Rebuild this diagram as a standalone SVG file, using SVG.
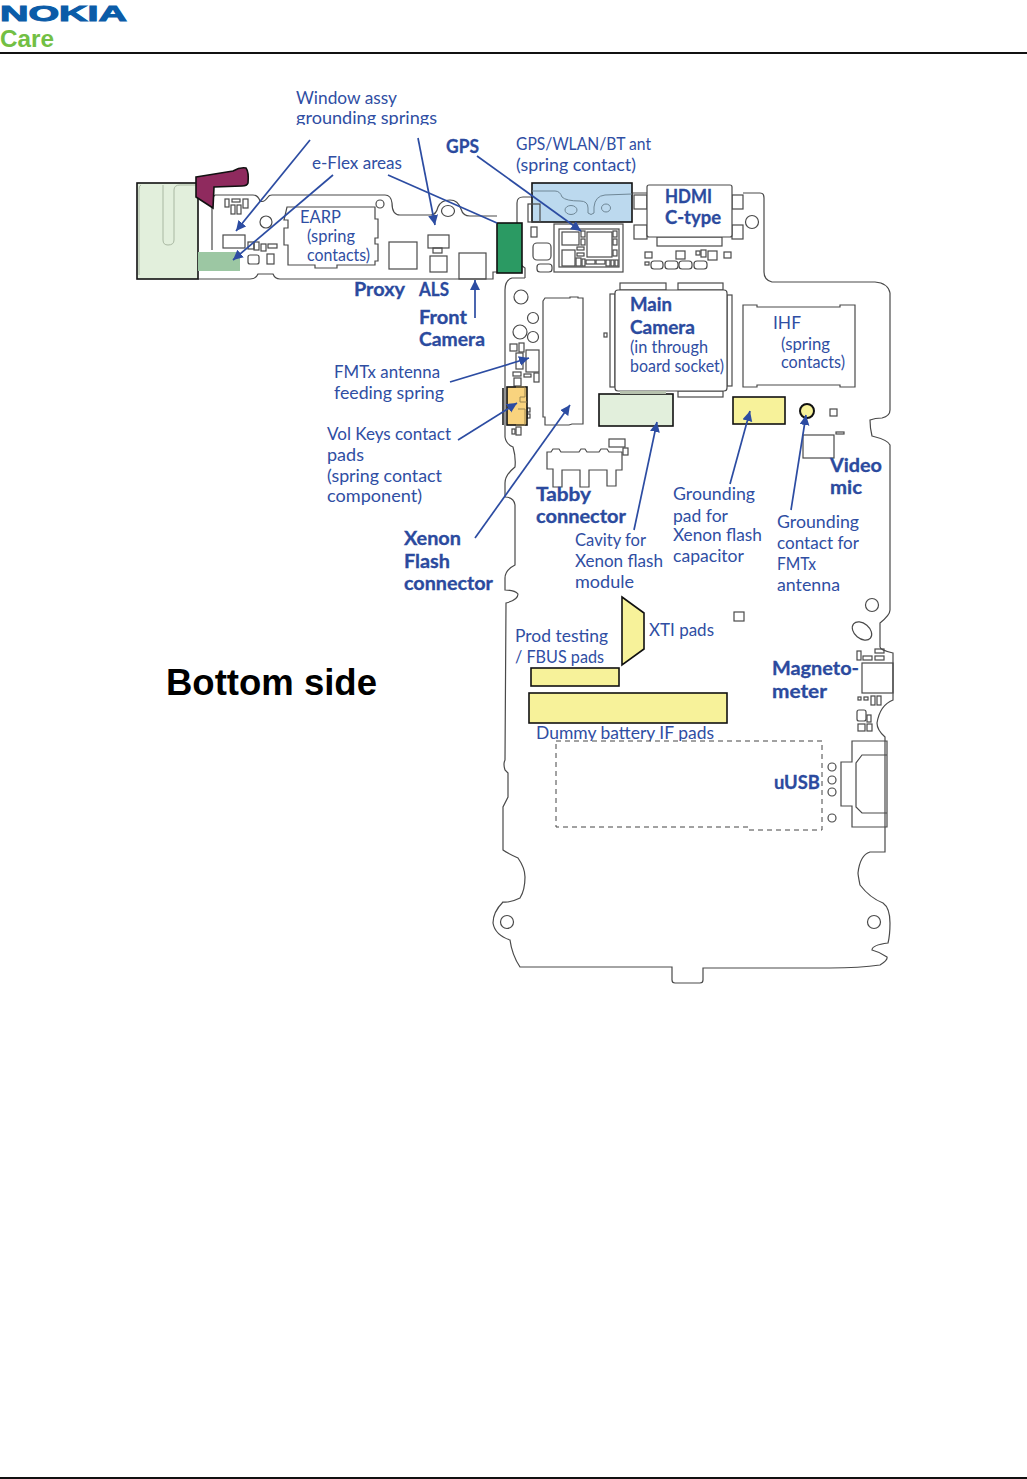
<svg xmlns="http://www.w3.org/2000/svg" width="1027" height="1479" viewBox="0 0 1027 1479">
<style>
.o{fill:none;stroke:#4a4a4a;stroke-width:1.2}
.w{fill:#fff;stroke:#4a4a4a;stroke-width:1.2}
.k{stroke:#111;stroke-width:1.6}
.y{fill:#f7f29a}
.t{font-family:"Lato","Noto Sans",sans-serif;font-size:16.5px;fill:#2f4ea3}
.b{font-family:"Lato","Noto Sans",sans-serif;font-size:18px;font-weight:700;fill:#2b4a9e;stroke:#2b4a9e;stroke-width:.3}
.a{stroke:#2c4ca2;stroke-width:1.7;fill:none;marker-end:url(#h)}
</style>
<defs>
<marker id="h" markerUnits="userSpaceOnUse" markerWidth="12" markerHeight="12" refX="10" refY="5" orient="auto"><path d="M0 0L10 5L0 10Z" fill="#2c4ca2"/></marker>
<clipPath id="c1"><rect x="280" y="80" width="170" height="45"/></clipPath>
<clipPath id="c2"><rect x="520" y="715" width="210" height="26"/></clipPath>
</defs>
<rect width="1027" height="1479" fill="#fff"/>
<g id="header">
<text x="0" y="20.500" textLength="127" lengthAdjust="spacingAndGlyphs" style="font-family:'Liberation Sans',sans-serif;font-weight:700;font-size:22.500px;fill:#0b5ca8;stroke:#0b5ca8;stroke-width:1">NOKIA</text>
<text x="0" y="47" textLength="54" lengthAdjust="spacingAndGlyphs" style="font-family:'Liberation Sans',sans-serif;font-weight:700;font-size:24px;fill:#72bf44">Care</text>
<path d="M0 53H1027M0 1478H1027" stroke="#111" stroke-width="2"/>
</g>
<g id="board">
<path class="o" d="M215 195H253Q258 195 260 201Q264 203 268 197Q269 195 272 195H385Q391 195 392 203Q392 215 400 215H431Q436 215 438 207Q441 200 450 200Q458 200 461 209Q463 216 470 216H497M497 272H493V279H280Q275 279 273 274H258Q256 279 250 279H198"/>
<path class="o" d="M215 195Q212 197 212 205V250"/>
<path class="o" d="M525 278H512Q505 280 505 290V437Q506 444 513 447Q516 457 515 467Q505 475 505 483V497Q514 497 515 505V565Q505 570 505 578V590Q515 590 518 594Q518 600 506 603L505 760Q503 764 505 770L508 773V797L503 807V850Q507 853 518 858Q525 868 525 877Q525 890 520 898Q510 903 503 902Q493 912 493 923Q495 935 510 940Q512 955 520 967H672V980Q672 983 675 983H700Q703 983 703 980V968H830Q860 968 880 965Q888 960 887 957Q880 952 872 950Q872 945 888 943Q890 935 890 923Q890 908 883 903Q870 898 860 885Q858 875 858 873Q860 855 870 852H885V737Q877 730 877 723Q880 705 893 700V653Q880 650 880 647V623Q890 615 890 610V445Q888 440 872 436Q870 428 870 420Q875 418 882 418Q890 416 890 410V293Q888 283 875 282H772Q764 280 764 272V198Q764 193 760 193H743"/>
<path class="o" d="M525 278V268L517 262V203Q517 197 523 197H532M633 193H647"/>
<circle class="o" cx="266" cy="222" r="6"/><circle class="o" cx="380" cy="204" r="4"/><ellipse class="o" cx="448" cy="211" rx="6.500" ry="5.500"/>
<circle class="o" cx="521" cy="297" r="7"/><circle class="o" cx="533" cy="318" r="5.500"/><circle class="o" cx="520" cy="332" r="7"/><circle class="o" cx="533" cy="337" r="5.500"/>
<circle class="o" cx="752" cy="222" r="6.500"/><circle class="o" cx="872" cy="605" r="6.500"/><ellipse class="o" cx="862" cy="631" rx="11" ry="7.500" transform="rotate(40 862 631)"/>
<circle class="o" cx="507" cy="922" r="6.500"/><circle class="o" cx="874" cy="922" r="6.500"/>
<circle class="o" cx="832" cy="767" r="4"/><circle class="o" cx="832" cy="780" r="4"/><circle class="o" cx="832" cy="792" r="4"/><circle class="o" cx="832" cy="818" r="4"/>
<rect class="o" x="734" y="612" width="10" height="9"/>
</g>
<g id="flex-left">
<rect class="k" x="137" y="183" width="61" height="96" fill="#e2efdc"/>
<path d="M141 185Q139 185 139 190V275M163 185V240Q163 245 168 245Q174 245 174 240V190Q174 185 180 185H196" fill="none" stroke="#a9b8a2" stroke-width="1"/>
<rect x="198" y="252" width="42" height="19" fill="#9cc7a3"/>
<path d="M196 177L233 171Q240 167 246 168Q249 172 248 183Q247 186 242 186L214 187L213 208L196 197Z" fill="#8f2a5e" stroke="#111" stroke-width="1.600"/>
</g>
<g id="earp">
<path class="o" d="M287 207H375V219H378V238H375V244H378V261H375V265H337V268H315V265H288V245H284V228H288V220H284Z"/>
<text class="t" x="300" y="223" textLength="41" lengthAdjust="spacingAndGlyphs">EARP</text>
<text class="t" x="307" y="242" textLength="48" lengthAdjust="spacingAndGlyphs">(spring</text>
<text class="t" x="307" y="261" textLength="63" lengthAdjust="spacingAndGlyphs">contacts)</text>
</g>
<g id="top-parts">
<rect class="o" x="225" y="199" width="4" height="8"/><rect class="o" x="232" y="199" width="8" height="3"/><rect class="o" x="231" y="205" width="4" height="9"/><rect class="o" x="237" y="205" width="4" height="9"/><rect class="o" x="243" y="199" width="5" height="9"/>
<rect class="o" x="223" y="235" width="22" height="13" stroke="#222"/><rect class="o" x="248" y="242" width="6" height="7"/><rect class="o" x="254" y="242" width="5" height="8"/><rect class="o" x="261" y="244" width="5" height="7"/><rect class="o" x="268" y="244" width="9" height="4"/>
<rect class="o" x="248" y="255" width="11" height="9" rx="2"/><rect class="o" x="267" y="254" width="7" height="10"/>
<rect class="o" x="389" y="242" width="28" height="27"/><rect class="o" x="428" y="235" width="21" height="13"/><rect class="o" x="433" y="248" width="9" height="5"/><rect class="o" x="430" y="256" width="17" height="16"/><rect class="o" x="459" y="253" width="27" height="26"/>
</g>
<g id="green-block"><rect class="k" x="497" y="223" width="25" height="50" fill="#2b9a63"/></g>
<g id="gps-antenna">
<rect class="k" x="532" y="183" width="100" height="39" fill="#bcd9ee"/>
<path d="M532 191H555Q560 191 562 197Q566 201 580 201Q588 201 588 208V213Q591 216 594 213V207Q595 196 605 195L632 194" fill="none" stroke="#6f8796"/>
<ellipse cx="571" cy="210" rx="6" ry="4.500" fill="none" stroke="#6f8796"/><ellipse cx="606" cy="208" rx="4.500" ry="4" fill="none" stroke="#6f8796"/>
<rect class="o" x="528" y="204" width="12" height="18"/><rect class="o" x="531" y="227" width="6" height="10"/>
<rect class="o" x="533" y="243" width="18" height="17" rx="4"/><rect class="o" x="537" y="264" width="15" height="8" rx="3"/>
</g>
<g id="gps-module">
<rect class="o" x="554" y="224" width="69" height="48"/><rect class="o" x="559" y="229" width="60" height="38" stroke-width="1.600"/>
<rect class="o" x="562" y="232" width="17" height="13"/><rect class="o" x="587" y="232" width="25" height="25"/><rect class="o" x="562" y="250" width="13" height="16"/>
<rect class="o" x="581" y="231" width="4" height="6"/><rect class="o" x="581" y="239" width="4" height="6"/><rect class="o" x="577" y="247" width="7" height="3"/><rect class="o" x="577" y="253" width="7" height="3"/><rect class="o" x="576" y="258" width="5" height="8"/><rect class="o" x="582" y="259" width="3" height="7"/>
<rect class="o" x="586" y="260" width="9" height="4"/><rect class="o" x="596" y="260" width="9" height="4"/><rect class="o" x="606" y="260" width="4" height="6"/><rect class="o" x="611" y="260" width="3" height="6"/><rect class="o" x="615" y="260" width="3" height="6"/>
<rect class="o" x="613" y="231" width="4" height="6"/><rect class="o" x="613" y="239" width="4" height="6"/><rect class="o" x="613" y="250" width="4" height="6"/>
</g>
<g id="hdmi">
<rect class="o" x="634" y="195" width="13" height="14"/><rect class="o" x="732" y="195" width="11" height="14"/><rect class="o" x="634" y="225" width="13" height="14"/><rect class="o" x="732" y="225" width="11" height="14"/><rect class="o" x="657" y="237" width="65" height="9"/>
<rect class="w" x="647" y="185" width="85" height="52" rx="2"/>
<text class="b" x="665" y="203" textLength="47" lengthAdjust="spacingAndGlyphs">HDMI</text>
<text class="b" x="665" y="224" textLength="56" lengthAdjust="spacingAndGlyphs">C-type</text>
<rect class="o" x="645" y="252" width="7" height="6"/><rect class="o" x="645" y="262" width="4" height="3"/><rect class="o" x="676" y="251" width="9" height="8"/><rect class="o" x="708" y="251" width="9" height="9"/><rect class="o" x="724" y="252" width="7" height="6"/><rect class="o" x="696" y="251" width="4" height="4"/><rect class="o" x="701" y="250" width="5" height="7"/>
<rect class="o" x="651" y="261" width="12" height="8" rx="3"/><rect class="o" x="665" y="261" width="13" height="8" rx="3"/><rect class="o" x="679" y="261" width="13" height="8" rx="3"/><rect class="o" x="694" y="261" width="13" height="8" rx="3"/>
</g>
<g id="main-camera">
<rect class="o" x="620" y="283" width="46" height="7"/><rect class="o" x="678" y="283" width="45" height="7"/><rect class="o" x="610" y="294" width="5" height="93"/><rect class="o" x="727" y="295" width="5" height="91"/><rect class="o" x="678" y="391" width="45" height="6"/><rect class="o" x="604" y="333" width="3" height="4"/>
<rect class="w" x="615" y="290" width="112" height="101" rx="3"/>
<text class="b" x="630" y="311" textLength="42" lengthAdjust="spacingAndGlyphs">Main</text>
<text class="b" x="630" y="334" textLength="65" lengthAdjust="spacingAndGlyphs">Camera</text>
<text class="t" x="630" y="353" textLength="78" lengthAdjust="spacingAndGlyphs">(in through</text>
<text class="t" x="630" y="372" textLength="94" lengthAdjust="spacingAndGlyphs">board socket)</text>
</g>
<g id="ihf">
<path class="o" d="M743 305H757V307H840V305H855V387H840V385H757V387H743Z"/>
<text class="t" x="773" y="329" textLength="28" lengthAdjust="spacingAndGlyphs">IHF</text>
<text class="t" x="781" y="350" textLength="49" lengthAdjust="spacingAndGlyphs">(spring</text>
<text class="t" x="781" y="368" textLength="64" lengthAdjust="spacingAndGlyphs">contacts)</text>
</g>
<g id="socket"><path class="o" d="M543 301L545 298H570V297H578V298H583V424H572L569 425H545V417H543Z"/></g>
<g id="left-parts">
<rect class="o" x="510" y="344" width="7" height="7"/><rect class="o" x="519" y="343" width="5" height="9"/><rect class="o" x="516" y="353" width="7" height="16"/><rect class="o" x="526" y="350" width="13" height="22"/>
<rect class="o" x="513" y="372" width="8" height="4"/><rect class="o" x="524" y="374" width="7" height="3"/><rect class="o" x="534" y="373" width="5" height="9"/><rect class="o" x="514" y="378" width="7" height="8"/>
<rect class="o" x="527" y="408" width="3" height="4"/><rect class="o" x="527" y="414" width="3" height="4"/><rect class="o" x="512" y="429" width="3" height="5"/><rect class="o" x="516" y="427" width="5" height="8"/>
</g>
<g id="vol-keys">
<path d="M503 388V425" stroke="#111" stroke-width="1.500"/>
<rect class="k" x="507" y="387" width="20" height="38" fill="#f9d37e"/>
<path d="M516 387H525V397H520V402H527M516 425H525V409H518" fill="none" stroke="#9a8550"/>
</g>
<g id="xenon-cavity"><rect class="k" x="599" y="394" width="74" height="32" fill="#e2efdc"/><rect x="620" y="391" width="46" height="3" fill="#b7c2ae"/></g>
<g id="xenon-pad"><rect class="k y" x="733" y="397" width="52" height="27"/></g>
<g id="fmtx-contact"><circle class="y" cx="807" cy="411" r="7" stroke="#111" stroke-width="2"/><rect class="o" x="830" y="409" width="7" height="7"/></g>
<g id="video-mic">
<rect class="o" x="803" y="435" width="31" height="23"/><rect class="o" x="836" y="432" width="8" height="2"/>
<text class="b" x="830" y="472" textLength="52" lengthAdjust="spacingAndGlyphs">Video</text>
<text class="b" x="830" y="494" textLength="32" lengthAdjust="spacingAndGlyphs">mic</text>
</g>
<g id="tabby">
<path class="o" d="M547 452V469H553V487H562V470H580V487H589V470H607V486H616V470H622V452H609L607 449H601L599 452H587L585 449H581L579 452H561L559 449H553L551 452Z"/>
<rect class="o" x="609" y="439" width="16" height="8"/><rect class="o" x="623" y="448" width="5" height="7"/>
<text class="b" x="536" y="501" textLength="55" lengthAdjust="spacingAndGlyphs">Tabby</text>
<text class="b" x="536" y="523" textLength="90" lengthAdjust="spacingAndGlyphs">connector</text>
</g>
<g id="xti"><path class="k y" d="M622 597L644 613V649L622 665Z"/><text class="t" x="649" y="636" textLength="65" lengthAdjust="spacingAndGlyphs">XTI pads</text></g>
<g id="fbus"><rect class="k y" x="531" y="668" width="88" height="18"/>
<text class="t" x="515" y="642" textLength="93" lengthAdjust="spacingAndGlyphs">Prod testing</text>
<text class="t" x="515" y="663" textLength="89" lengthAdjust="spacingAndGlyphs">/ FBUS pads</text></g>
<g id="dummy-battery"><rect class="k y" x="529" y="693" width="198" height="30"/>
<text class="t" x="536" y="739" textLength="178" lengthAdjust="spacingAndGlyphs" clip-path="url(#c2)">Dummy battery IF pads</text>
<path d="M556 741H822V830H748V827H556Z" fill="none" stroke="#444" stroke-width="1" stroke-dasharray="5 4"/></g>
<g id="magnetometer">
<rect class="o" x="862" y="663" width="31" height="30"/>
<rect class="o" x="857" y="651" width="4" height="9"/><rect class="o" x="863" y="656" width="9" height="4"/><rect class="o" x="875" y="649" width="9" height="4"/><rect class="o" x="875" y="656" width="9" height="4"/>
<rect class="o" x="858" y="697" width="3" height="3"/><rect class="o" x="864" y="697" width="4" height="3"/><rect class="o" x="871" y="696" width="4" height="9"/><rect class="o" x="877" y="696" width="4" height="9"/>
<rect class="o" x="857" y="710" width="9" height="11" rx="2"/><rect class="o" x="867" y="715" width="4" height="7"/><rect class="o" x="858" y="724" width="7" height="7"/><rect class="o" x="867" y="724" width="5" height="7"/>
<text class="b" x="772" y="675" textLength="87" lengthAdjust="spacingAndGlyphs">Magneto-</text>
<text class="b" x="772" y="698" textLength="55" lengthAdjust="spacingAndGlyphs">meter</text>
</g>
<g id="usb">
<path class="o" d="M852 741H887V827H852V806H841V762H852Z"/><path class="o" d="M887 755H862L856 763V807L862 813H887"/>
<text class="b" x="774" y="789" textLength="46" lengthAdjust="spacingAndGlyphs">uUSB</text>
</g>
<g id="labels">
<text class="t" x="296" y="104" textLength="101" lengthAdjust="spacingAndGlyphs">Window assy</text>
<text class="t" x="296" y="124" textLength="141" lengthAdjust="spacingAndGlyphs" clip-path="url(#c1)">grounding springs</text>
<text class="t" x="312" y="169" textLength="90" lengthAdjust="spacingAndGlyphs">e-Flex areas</text>
<text class="b" x="446" y="153" textLength="33" lengthAdjust="spacingAndGlyphs">GPS</text>
<text class="t" x="516" y="150" textLength="135" lengthAdjust="spacingAndGlyphs">GPS/WLAN/BT ant</text>
<text class="t" x="516" y="171" textLength="120" lengthAdjust="spacingAndGlyphs">(spring contact)</text>
<text class="b" x="354" y="296" textLength="51" lengthAdjust="spacingAndGlyphs">Proxy</text>
<text class="b" x="419" y="296" textLength="30" lengthAdjust="spacingAndGlyphs">ALS</text>
<text class="b" x="419" y="324" textLength="48" lengthAdjust="spacingAndGlyphs">Front</text>
<text class="b" x="419" y="346" textLength="66" lengthAdjust="spacingAndGlyphs">Camera</text>
<text class="t" x="334" y="378" textLength="106" lengthAdjust="spacingAndGlyphs">FMTx antenna</text>
<text class="t" x="334" y="399" textLength="110" lengthAdjust="spacingAndGlyphs">feeding spring</text>
<text class="t" x="327" y="440" textLength="124" lengthAdjust="spacingAndGlyphs">Vol Keys contact</text>
<text class="t" x="327" y="461" textLength="37" lengthAdjust="spacingAndGlyphs">pads</text>
<text class="t" x="327" y="482" textLength="115" lengthAdjust="spacingAndGlyphs">(spring contact</text>
<text class="t" x="327" y="502" textLength="95" lengthAdjust="spacingAndGlyphs">component)</text>
<text class="b" x="404" y="545" textLength="57" lengthAdjust="spacingAndGlyphs">Xenon</text>
<text class="b" x="404" y="568" textLength="46" lengthAdjust="spacingAndGlyphs">Flash</text>
<text class="b" x="404" y="590" textLength="89" lengthAdjust="spacingAndGlyphs">connector</text>
<text class="t" x="575" y="546" textLength="71" lengthAdjust="spacingAndGlyphs">Cavity for</text>
<text class="t" x="575" y="567" textLength="88" lengthAdjust="spacingAndGlyphs">Xenon flash</text>
<text class="t" x="575" y="588" textLength="59" lengthAdjust="spacingAndGlyphs">module</text>
<text class="t" x="673" y="500" textLength="82" lengthAdjust="spacingAndGlyphs">Grounding</text>
<text class="t" x="673" y="522" textLength="55" lengthAdjust="spacingAndGlyphs">pad for</text>
<text class="t" x="673" y="541" textLength="89" lengthAdjust="spacingAndGlyphs">Xenon flash</text>
<text class="t" x="673" y="562" textLength="71" lengthAdjust="spacingAndGlyphs">capacitor</text>
<text class="t" x="777" y="528" textLength="82" lengthAdjust="spacingAndGlyphs">Grounding</text>
<text class="t" x="777" y="549" textLength="82" lengthAdjust="spacingAndGlyphs">contact for</text>
<text class="t" x="777" y="570" textLength="39" lengthAdjust="spacingAndGlyphs">FMTx</text>
<text class="t" x="777" y="591" textLength="63" lengthAdjust="spacingAndGlyphs">antenna</text>
<text x="166" y="695" textLength="211" lengthAdjust="spacingAndGlyphs" style="font-family:'Liberation Sans',sans-serif;font-weight:700;font-size:36px;fill:#000">Bottom side</text>
</g>
<g id="connectors">
<path class="a" d="M310 140L236 231"/>
<path class="a" d="M333 175L233 260"/>
<path class="a" d="M418 138L435 225"/>
<path d="M388 175L497 223" fill="none" stroke="#2c4ca2" stroke-width="1.700"/>
<path class="a" d="M477 156L581 231"/>
<path class="a" d="M475 318V280"/>
<path class="a" d="M450 382L529 358"/>
<path class="a" d="M458 440L517 403"/>
<path class="a" d="M475 538L570 405"/>
<path class="a" d="M634 530L657 422"/>
<path class="a" d="M730 484L750 411"/>
<path class="a" d="M791 510L806 415"/>
</g>
</svg>
